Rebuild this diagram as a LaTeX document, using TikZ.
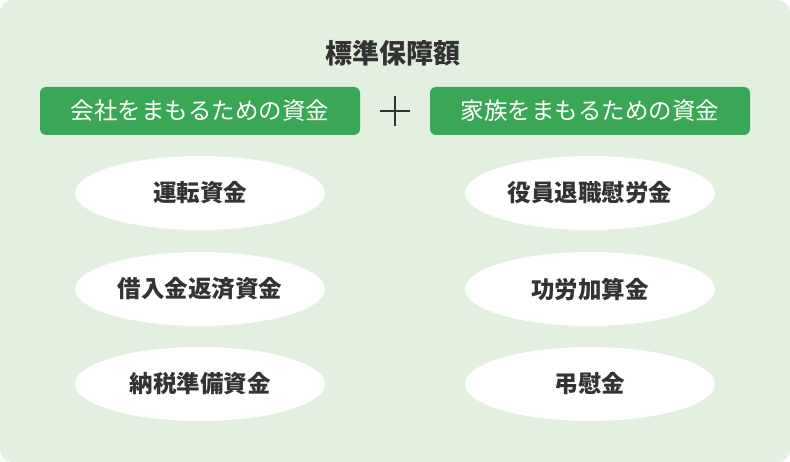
\documentclass[tikz,border=0pt]{standalone}
\usepackage{fontspec}
\setmainfont{Noto Sans CJK JP}
\definecolor{bgc}{HTML}{E3EFDF}
\definecolor{grn}{HTML}{3AA757}
\definecolor{txt}{HTML}{333333}
\begin{document}
\begin{tikzpicture}[x=1pt,y=-1pt,
  hdr/.style={fill=grn,rounded corners=6pt,minimum width=320pt,minimum height=48pt,text=white,font=\fontsize{23.5}{26}\selectfont,inner sep=0pt},
  oval/.style={ellipse,fill=white,minimum width=250pt,minimum height=74pt,text=txt,font=\fontsize{23.5}{26}\selectfont\bfseries,inner sep=0pt}]
\usetikzlibrary{shapes.geometric}
\useasboundingbox (0,0) rectangle (790,462);
\fill[bgc,rounded corners=12pt] (0,0) rectangle (790,462);
\node[text=txt,font=\fontsize{27}{30}\selectfont\bfseries] (title) at (393,53) {標準保障額};
\node[hdr] (h1) at (200,111) {会社をまもるための資金};
\node[hdr] (h2) at (590,111) {家族をまもるための資金};
\coordinate (plus) at (395,111);
\draw[txt,line width=2.2pt] ([xshift=-15pt]plus) -- ([xshift=15pt]plus) ([yshift=-15pt]plus) -- ([yshift=15pt]plus);
\node[oval] (a1) at (200,193) {運転資金};
\node[oval] (a2) at (200,289) {借入金返済資金};
\node[oval] (a3) at (200,384) {納税準備資金};
\node[oval] (b1) at (590,193) {役員退職慰労金};
\node[oval] (b2) at (590,289) {功労加算金};
\node[oval] (b3) at (590,384) {弔慰金};
\end{tikzpicture}
\end{document}
